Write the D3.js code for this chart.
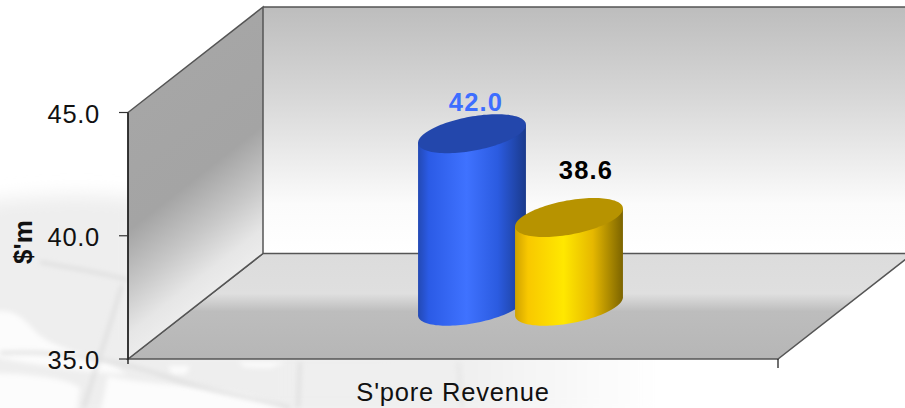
<!DOCTYPE html>
<html><head><meta charset="utf-8"><script src="https://cdn.jsdelivr.net/npm/d3@7"></script>
<style>html,body{margin:0;background:#fff}svg{display:block}text{font-family:"Liberation Sans",Arial,sans-serif}</style></head>
<body><div id="c"></div>
<script>
const categories = ["S'pore Revenue"];
const seriesNames = ["A","B"];
const seriesValues = [42.0, 38.6];
const seriesLabels = ["42.0","38.6"];
const yTicks = [35,40,45];
const yTitle = "$'m";

const W=905,H=408;
const svg=d3.select("#c").append("svg").attr("width",W).attr("height",H);
const defs=svg.append("defs");
function grad(id,stops,v,user){const g=defs.append("linearGradient").attr("id",id);
 if(v){g.attr("x1",v[0]).attr("y1",v[1]).attr("x2",v[2]).attr("y2",v[3]);}
 if(user)g.attr("gradientUnits","userSpaceOnUse");
 stops.forEach(s=>g.append("stop").attr("offset",s[0]).attr("stop-color",s[1]));}
grad("back",[[0,"#bdbdbd"],[.35,"#d6d6d6"],[.8,"#fbfbfb"],[1,"#ffffff"]],[0,0,0,1]);
grad("left",[[0,"#a6a6a6"],[.48,"#a4a4a4"],[.72,"#c8c8c8"],[.9,"#e6e6e6"],[1,"#ececec"]],[128,112.5,247.6,265.5],true);
grad("floor",[[0,"#dcdcdc"],[.38,"#dfdfdf"],[.55,"#bdbdbd"],[1,"#b6b6b6"]],[0,0,0,1]);
grad("blue",[[0,"#2349b4"],[.1,"#2b5be6"],[.45,"#3f72ff"],[.74,"#2b5be0"],[1,"#1a3a8c"]]);
grad("gold",[[0,"#d0a200"],[.12,"#f8c800"],[.45,"#ffe800"],[.72,"#e6b800"],[1,"#7c6400"]]);
grad("map",[[0,"#eeeeee"],[.7,"#efefef"],[1,"#ffffff"]],[0,0,1,0]);
const bodyFill=["url(#blue)","url(#gold)"], topFill=["#2347ac","#b79300"], labelFill=["#3d6eff","#000"];
const labelShift=[[4,-23],[17,-39]];

const y=d3.scaleLinear().domain([35,45]).range([359,112.5]);
const x0=d3.scaleBand().domain(categories).range([128,778]);
const depth={x:135,y:-105.5};
const x1=d3.scaleBand().domain(seriesNames).range([-97,97]);

// faint background map
defs.append("filter").attr("id","soft").attr("x","-10%").attr("y","-10%").attr("width","120%").attr("height","120%")
 .append("feGaussianBlur").attr("stdDeviation",2.5);
const blur=defs.append("filter").attr("id","soft2").attr("x","-20%").attr("y","-20%").attr("width","140%").attr("height","140%");
blur.append("feGaussianBlur").attr("stdDeviation",9);
const bg=svg.append("g").attr("fill","none");
bg.append("path").attr("d","M-20 203C50 192 95 194 140 198L140 340L660 340L660 420L-20 420Z").attr("fill","url(#map)").attr("filter","url(#soft2)");
const land=bg.append("g").attr("filter","url(#soft)").attr("fill","#fcfcfc");
land.append("path").attr("d","M-10 312C12 308 22 316 34 330C46 343 60 346 74 352C88 356 112 362 126 374C100 373 50 368 -10 356Z");
land.append("path").attr("d","M-10 373C40 374 70 380 80 388L76 415L-10 415Z");
land.append("path").attr("d","M108 376C130 382 170 384 205 388C235 392 262 396 285 408L285 415L100 415Z");
land.append("path").attr("d","M168 366L190 366L186 374L172 374Z");
land.append("path").attr("d","M238 362L286 362L270 368L245 367Z");
const lines=bg.append("g").attr("filter","url(#soft)").attr("stroke","#dcdcdc").attr("stroke-width",3);
lines.append("path").attr("d","M0 353C60 350 120 360 170 378C210 392 250 396 290 408");
lines.append("path").attr("d","M40 262C70 268 100 272 128 280");
lines.append("path").attr("d","M122 285C112 320 98 360 84 408");
lines.append("path").attr("d","M300 362L298 408");
lines.append("path").attr("d","M458 362L462 408").attr("stroke","#e4e4e4");

// walls: drawn from the axis scale
const l=x0.range()[0], r=x0.range()[1], b=y(35), t=y(45);
const dx=depth.x, dy=depth.y;
const poly=(pts)=>d3.line()(pts)+"Z";
svg.append("path").attr("d",poly([[l+dx,t+dy],[r+dx,t+dy],[r+dx,b+dy],[l+dx,b+dy]])).attr("fill","url(#back)");
svg.append("path").attr("d",poly([[l,b],[r,b],[r+dx,b+dy],[l+dx,b+dy]])).attr("fill","url(#floor)").attr("stroke","#555").attr("stroke-width",1.5);
svg.append("path").attr("d",poly([[l,t],[l+dx,t+dy],[l+dx,b+dy],[l,b]])).attr("fill","url(#left)").attr("stroke","#555").attr("stroke-width",1.5);
svg.append("line").attr("x1",l+dx).attr("x2",r+dx).attr("y1",t+dy).attr("y2",t+dy).attr("stroke","#555").attr("stroke-width",1.5);

// axes
const axis=svg.append("g");
axis.append("line").attr("x1",l).attr("x2",l).attr("y1",t).attr("y2",b+5).attr("stroke","#111").attr("stroke-width",1.3);
yTicks.forEach(v=>{
 axis.append("line").attr("x1",l-9).attr("x2",l).attr("y1",y(v)).attr("y2",y(v)).attr("stroke","#333").attr("stroke-width",1.2);
 axis.append("text").attr("x",100).attr("y",y(v)+10).attr("text-anchor","end").attr("font-size",25.5).attr("letter-spacing",.7).attr("fill","#111").text(d3.format(".1f")(v));
});
axis.append("line").attr("x1",r).attr("x2",r).attr("y1",b).attr("y2",b+9).attr("stroke","#111").attr("stroke-width",1.2);
axis.append("text").attr("x",x0(categories[0])+x0.bandwidth()/2).attr("y",401).attr("text-anchor","middle").attr("font-size",25.5).attr("letter-spacing",.8).attr("fill","#111").text(categories[0]);
svg.append("text").attr("transform","translate(32,242) rotate(-90)").attr("text-anchor","middle").attr("font-size",26).attr("font-weight","bold").attr("fill","#111").text(yTitle);

// cylinders
const A=47.8, Sx=25, Sy=19.5;
const ts=d3.range(0,361,3).map(d=>d*Math.PI/180);
const tan=Math.atan2(Sx,A);
const cx=x0(categories[0])+x0.bandwidth()/2+dx/2;
const baseY=y(35)+dy/2;
const pt=(c,yy,a)=>[c+A*Math.cos(a)+Sx*Math.sin(a),yy-Sy*Math.sin(a)];
seriesValues.forEach((v,i)=>{
 const c=cx+x1(seriesNames[i])+x1.bandwidth()/2;
 const h=y(35)-y(v), topY=baseY-h;
 const arc=d3.range(0,181,3).map(d=>pt(c,baseY,tan-d*Math.PI/180));
 const e=arc[arc.length-1], s=arc[0];
 const body=arc.concat([[e[0],e[1]-h],[s[0],s[1]-h]]);
 const g=svg.append("g");
 g.append("path").attr("d",poly(body)).attr("fill",bodyFill[i]);
 g.append("path").attr("d",poly(ts.map(a=>pt(c,topY,a)))).attr("fill",topFill[i]);
 g.append("text").attr("x",c+labelShift[i][0]).attr("y",topY+labelShift[i][1]).attr("text-anchor","middle").attr("font-size",25.5).attr("letter-spacing",1.2).attr("font-weight","bold").attr("fill",labelFill[i]).text(seriesLabels[i]);
});
</script></body></html>
